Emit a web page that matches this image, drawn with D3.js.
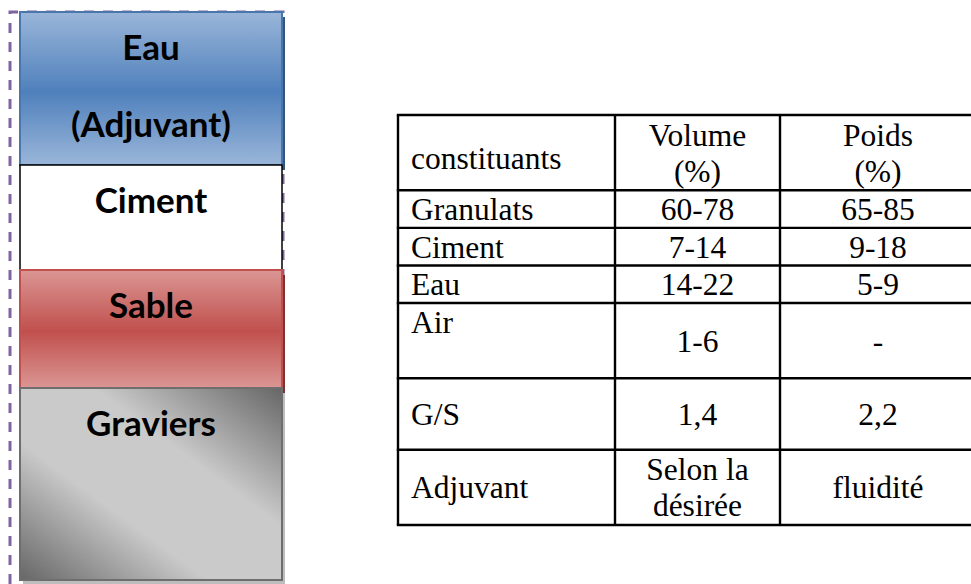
<!DOCTYPE html>
<html>
<head>
<meta charset="utf-8">
<script src="https://cdn.jsdelivr.net/npm/d3@7"></script>
<style>
body { margin: 0; background: #fff; }
svg { display: block; }
</style>
</head>
<body>
<svg id="chart"></svg>
<script>
// composition du béton : couches (hauteurs relatives)
var layerNames = ["Eau", "Ciment", "Sable", "Graviers"];
var layerLabels = [["Eau", "(Adjuvant)"], ["Ciment"], ["Sable"], ["Graviers"]];
var layerHeights = [15.3, 10.5, 11.8, 19.2];

// tableau
var tableHeader = [["constituants"], ["Volume", "(%)"], ["Poids", "(%)"]];
var rowNames = ["Granulats", "Ciment", "Eau", "Air", "G/S", "Adjuvant"];
var volumeValues = [["60-78"], ["7-14"], ["14-22"], ["1-6"], ["1,4"], ["Selon la", "désirée"]];
var poidsValues = [["65-85"], ["9-18"], ["5-9"], ["-"], ["2,2"], ["fluidité"]];
var rowUnits = [2, 1, 1, 1, 2, 1.9, 2];

var width = 971, height = 584;

var svg = d3.select("#chart").attr("width", width).attr("height", height);
var defs = svg.append("defs");

function vGrad(id, light, dark){
	var g = defs.append("linearGradient").attr("id", id)
		.attr("x1", 0).attr("y1", 0).attr("x2", 0).attr("y2", 1);
	g.append("stop").attr("offset", "0%").attr("stop-color", light);
	g.append("stop").attr("offset", "52%").attr("stop-color", dark);
	g.append("stop").attr("offset", "100%").attr("stop-color", light);
}
vGrad("gEau", "#9ab6d9", "#4f80bc");
vGrad("gSable", "#db9694", "#c0504d");

var gg = defs.append("linearGradient").attr("id", "gGrav")
	.attr("x1", 1).attr("y1", 0).attr("x2", 0).attr("y2", 1);
gg.append("stop").attr("offset", "0%").attr("stop-color", "#666666");
gg.append("stop").attr("offset", "36%").attr("stop-color", "#cacaca");
gg.append("stop").attr("offset", "64%").attr("stop-color", "#cacaca");
gg.append("stop").attr("offset", "100%").attr("stop-color", "#666666");

var fills = {"Eau": "url(#gEau)", "Ciment": "#ffffff", "Sable": "url(#gSable)", "Graviers": "url(#gGrav)"};
var strokes = {"Eau": "#4a77ab", "Ciment": "#000000", "Sable": "#c0504d", "Graviers": "#6e6e6e"};
var shadows = {"Eau": "#35557e", "Ciment": null, "Sable": "#7f3331", "Graviers": "#bdbdbd"};

// colonne empilée
var cum = [0];
layerHeights.forEach(function(h, i){ cum.push(cum[i] + h); });
var yLayer = d3.scaleLinear().domain([0, cum[cum.length - 1]]).range([12, 580]);
var xCol = d3.scaleLinear().domain([0, 1]).range([20, 282]);

// cadre pointillé violet
svg.append("path")
	.attr("d", "M10," + height + "V12H283V" + height)
	.attr("fill", "none")
	.attr("stroke", "#8064a2")
	.attr("stroke-width", 3)
	.attr("stroke-dasharray", "10,9");

var layers = svg.append("g").selectAll("g")
	.data(layerNames)
	.enter().append("g");

layers.filter(function(d){ return shadows[d]; })
	.append("rect")
	.attr("x", function(d){ return xCol(0) + 3; })
	.attr("y", function(d, i){ return yLayer(cum[layerNames.indexOf(d)]) + 5; })
	.attr("width", xCol(1) - xCol(0))
	.attr("height", function(d){ var i = layerNames.indexOf(d); return yLayer(cum[i + 1]) - yLayer(cum[i]); })
	.attr("fill", function(d){ return shadows[d]; });

layers.append("rect")
	.attr("x", xCol(0))
	.attr("y", function(d, i){ return yLayer(cum[i]); })
	.attr("width", xCol(1) - xCol(0))
	.attr("height", function(d, i){ return yLayer(cum[i + 1]) - yLayer(cum[i]); })
	.attr("fill", function(d){ return fills[d]; })
	.attr("stroke", function(d){ return strokes[d]; })
	.attr("stroke-width", function(d){ return d == "Ciment" ? 1.5 : 2; });

layers.each(function(d, i){
	var g = d3.select(this);
	layerLabels[i].forEach(function(t, k){
		g.append("text")
			.attr("x", (xCol(0) + xCol(1)) / 2)
			.attr("y", yLayer(cum[i]) + 48 + k * 77)
			.attr("text-anchor", "middle")
			.style("font-family", "Lato, 'Open Sans', sans-serif")
			.style("font-weight", "bold")
			.style("font-size", "35px")
			.style("fill", "#000")
			.text(t);
	});
});

// tableau
var rowCum = [0];
rowUnits.forEach(function(u, i){ rowCum.push(rowCum[i] + u); });
var yRow = d3.scaleLinear().domain([0, rowCum[rowCum.length - 1]]).range([115, 525]);
var colEdges = [398, 615, 780, 976];

var table = svg.append("g")
	.style("font-family", "'Liberation Serif', 'Times New Roman', serif")
	.style("font-size", "31.5px")
	.style("fill", "#000");

rowCum.forEach(function(c){
	table.append("line")
		.attr("x1", colEdges[0] - 1.2).attr("x2", width)
		.attr("y1", yRow(c)).attr("y2", yRow(c))
		.attr("stroke", "#000").attr("stroke-width", 2.4);
});
colEdges.forEach(function(x){
	table.append("line")
		.attr("x1", x).attr("x2", x)
		.attr("y1", yRow(0)).attr("y2", yRow(rowCum[rowCum.length - 1]))
		.attr("stroke", "#000").attr("stroke-width", 2.4);
});

var allRows = [tableHeader].concat(rowNames.map(function(n, i){
	return [[n], volumeValues[i], poidsValues[i]];
}));

var lineH = 36;
allRows.forEach(function(row, r){
	var top = yRow(rowCum[r]), bot = yRow(rowCum[r + 1]);
	row.forEach(function(cell, c){
		var x = c == 0 ? colEdges[0] + 13 : (colEdges[c] + colEdges[c + 1]) / 2;
		var firstBase;
		if (r == 0 && c == 0) firstBase = top + 54;
		else if (r == 4 && c == 0) firstBase = top + 30;
		else firstBase = top + ((bot - top) - cell.length * lineH) / 2 + 29;
		cell.forEach(function(t, k){
			table.append("text")
				.attr("x", x)
				.attr("y", firstBase + k * lineH)
				.attr("text-anchor", c == 0 ? "start" : "middle")
				.text(t);
		});
	});
});
</script>
</body>
</html>
